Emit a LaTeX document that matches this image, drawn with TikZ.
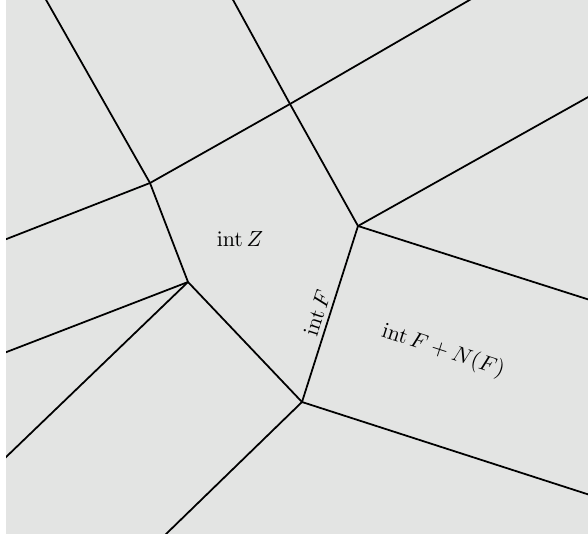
\documentclass[tikz,border=0pt]{standalone}
\usepackage{amsmath}
\definecolor{bg}{RGB}{227,228,227}
\begin{document}
\begin{tikzpicture}[x=0.5pt,y=-0.5pt,
  edge/.style={line width=0.9pt,black},
  shade/.style={line width=0.9pt,white,xshift=0.7pt},
  lbl/.style={inner sep=0pt,font=\fontsize{10.5}{12}\selectfont}]
\useasboundingbox (0,0) rectangle (588,534);
\fill[bg] (6,0) rectangle (588,534);
\clip (6,0) rectangle (588,534);
% vertices
\coordinate (A) at (150,183);
\coordinate (B) at (290,104);
\coordinate (C) at (358,226);
\coordinate (D) at (302,402);
\coordinate (E) at (188,282);
% free ends
\coordinate (t1) at (45,-2);
\coordinate (t2) at (232,-2);
\coordinate (t3) at (473,-2);
\coordinate (r1) at (590,96);
\coordinate (r2) at (590,300);
\coordinate (r3) at (590,495);
\coordinate (b1) at (164,536);
\coordinate (l1) at (4,240);
\coordinate (l2) at (4,353);
\coordinate (l3) at (4,459);
\foreach \p/\q in {t1/A,A/l1,A/B,A/E,t2/B,B/t3,B/C,C/r1,C/r2,C/D,D/r3,D/b1,E/D,E/l2,E/l3}
  {\draw[shade] (\p) -- (\q);}
\foreach \p/\q in {t1/A,A/l1,A/B,A/E,t2/B,B/t3,B/C,C/r1,C/r2,C/D,D/r3,D/b1,E/D,E/l2,E/l3}
  {\draw[edge] (\p) -- (\q);}
\node[lbl] (lz) at (240,239) {$\operatorname{int} Z$};
\node[lbl,rotate=72] (lf) at (317,313) {$\operatorname{int} F$};
\node[lbl,rotate=-18] (lfn) at (443,351) {$\operatorname{int} F + N(F)$};
\end{tikzpicture}
\end{document}
